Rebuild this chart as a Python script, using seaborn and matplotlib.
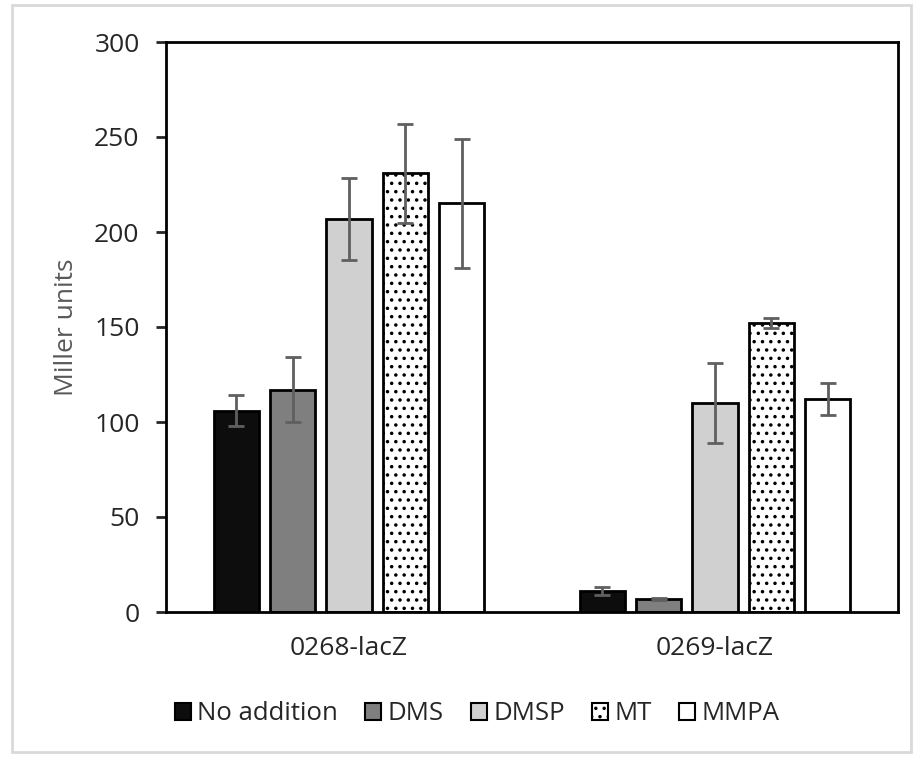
import numpy as np
import pandas as pd
import matplotlib
matplotlib.use('Agg')
import matplotlib.pyplot as plt
from matplotlib.patches import Patch, Rectangle
import seaborn as sns

# data
strains = ['0268-lacZ', '0269-lacZ']
treatments = ['No addition', 'DMS', 'DMSP', 'MT', 'MMPA']
no_addition = [106, 11]
dms = [117, 7]
dmsp = [207, 110]
mt = [231, 152]
mmpa = [215, 112]
no_addition_err = [8, 2]
dms_err = [17, 0.5]
dmsp_err = [21.5, 21]
mt_err = [26, 2.5]
mmpa_err = [34, 8.5]

values = [no_addition, dms, dmsp, mt, mmpa]
errors = [no_addition_err, dms_err, dmsp_err, mt_err, mmpa_err]
colors = ['#0d0d0d', '#7f7f7f', '#d0d0d0', 'white', 'white']
hatches = [None, None, None, '..', None]

rows = []
for t, vals in zip(treatments, values):
    for s, v in zip(strains, vals):
        rows.append({'strain': s, 'treatment': t, 'value': v})
df = pd.DataFrame(rows)

sns.set_style('white')
plt.rcParams['font.family'] = ['Open Sans', 'DejaVu Sans']
plt.rcParams['hatch.linewidth'] = 1.3

fig = plt.figure(figsize=(9.14, 7.57), dpi=100)
ax = fig.add_axes([166 / 914, 1 - 612 / 757, (898 - 166) / 914, (612 - 42) / 757])

sns.barplot(data=df, x='strain', y='value', hue='treatment',
            hue_order=treatments, order=strains,
            palette=colors, width=0.77, gap=0.2,
            edgecolor='black', linewidth=2, saturation=1,
            errorbar=None, legend=False, ax=ax)

for container, err, h in zip(ax.containers, errors, hatches):
    xs = []
    ys = []
    for bar in container:
        if h:
            bar.set_hatch(h)
        xs.append(bar.get_x() + bar.get_width() / 2)
        ys.append(bar.get_height())
    ax.errorbar(xs, ys, yerr=err, fmt='none', ecolor='#5f5f5f',
                elinewidth=2, capsize=5.5, capthick=2, zorder=5)

ax.set_ylim(0, 300)
ax.set_xlim(-0.5, 1.5)
ax.set_yticks(np.arange(0, 301, 50))
ax.set_xlabel('')
ax.set_ylabel('Miller units', fontsize=19, color='#595959', labelpad=11)
ax.tick_params(axis='y', direction='out', length=7, width=2, pad=12,
               labelsize=19, left=True)
ax.tick_params(axis='x', length=0, pad=17, labelsize=19)
for side in ['top', 'right', 'left', 'bottom']:
    ax.spines[side].set_linewidth(2)
    ax.spines[side].set_color('black')

handles = [Patch(facecolor=c, edgecolor='black', linewidth=1.5, hatch=h)
           for c, h in zip(colors, hatches)]
fig.legend(handles, treatments, loc='center', ncol=5,
           bbox_to_anchor=(477 / 914, 1 - 714 / 757), frameon=False,
           fontsize=18.5, handlelength=0.64, handleheight=0.64,
           handletextpad=0.24, columnspacing=1.05)

# light gray outer border
fig.patches.append(Rectangle((12 / 914, 1 - 752 / 757), (911 - 12) / 914,
                             (752 - 5) / 757, transform=fig.transFigure,
                             fill=False, edgecolor='#d9d9d9', linewidth=2))

fig.savefig('out.png', dpi=100)
